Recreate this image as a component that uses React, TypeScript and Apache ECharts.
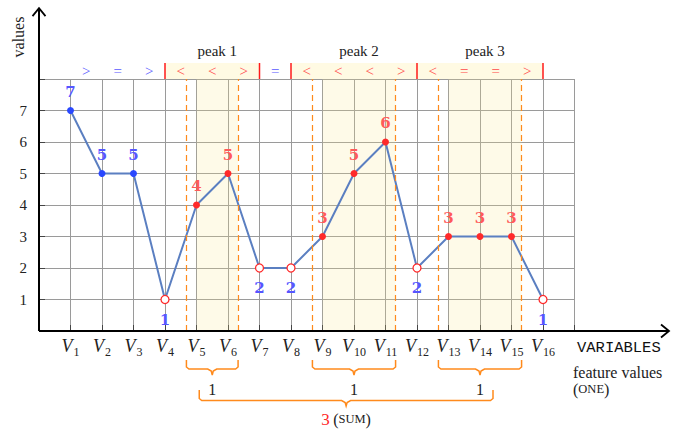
import React, { useEffect, useRef } from "react";
import * as echarts from "echarts";

// ---- data ----
const categories = ["1", "2", "3", "4", "5", "6", "7", "8", "9", "10", "11", "12", "13", "14", "15", "16"];
const values = [7, 5, 5, 1, 4, 5, 2, 2, 3, 5, 6, 2, 3, 3, 3, 1];
// kind of each point: "pre" = before first peak, "low" = outside peak, "peak" = in peak core
const pointKinds = ["pre", "pre", "pre", "low", "peak", "peak", "low", "low", "peak", "peak", "peak", "low", "peak", "peak", "peak", "low"];
const peakNames = ["peak 1", "peak 2", "peak 3"];
const peakSpans = [[4, 7], [8, 12], [12, 16]]; // sign-pattern span (variable indices)
const peakCores = [[5, 6], [9, 11], [13, 15]]; // variables inside the peak
const peakFeature = [1, 1, 1];
const yTickLabels = [1, 2, 3, 4, 5, 6, 7];

const SERIF = "'Liberation Serif', 'DejaVu Serif', serif";
const BOLD = "'DejaVu Serif', serif";
const BLUE_LBL = "#5656ff";
const RED_LBL = "#ff5a5a";
const BLUE_PT = "#2a48ff";
const RED_PT = "#ff2a2a";
const LINE = "#5b7fc1";
const SHADE = "rgba(250,232,140,0.2)";
const SHADE_SOLID = "#fffae3";
const ORANGE = "#ff8a1c";
const PAD = 0.32;

export default function App() {
  const ref = useRef<HTMLDivElement>(null);
  useEffect(() => {
    if (!ref.current) return;
    const chart = echarts.init(ref.current, null, { renderer: "svg" });
    const data = values.map((v, i) => {
      const k = pointKinds[i];
      const hollow = k === "low";
      return {
        value: [i + 1, v],
        symbolSize: hollow ? 8 : 7,
        itemStyle: hollow
          ? { color: "#fff", borderColor: RED_PT, borderWidth: 1.3 }
          : { color: k === "pre" ? BLUE_PT : RED_PT, borderWidth: 0 },
        label: {
          show: true,
          position: hollow ? "bottom" : "top",
          distance: 8,
          color: k === "peak" ? RED_LBL : BLUE_LBL,
          fontFamily: BOLD,
          fontWeight: "bold",
          fontSize: 15,
          formatter: String(v),
        },
      };
    });
    const option: any = {
      animation: false,
      grid: { left: 39, top: 79, width: 535.5, height: 252 },
      xAxis: {
        type: "value",
        min: 0,
        max: 17,
        interval: 1,
        axisLine: { show: false },
        axisTick: { show: true, inside: true, length: 6, lineStyle: { color: "#444" } },
        splitLine: { show: true, lineStyle: { color: "#9a9a9a", width: 1 } },
        axisLabel: {
          margin: 6,
          formatter: (v: number) =>
            v >= 1 && v <= categories.length ? `{v|V}{s|${categories[v - 1]}}` : "",
          rich: {
            v: { fontFamily: SERIF, fontStyle: "italic", fontSize: 18, color: "#222", verticalAlign: "top", lineHeight: 20 },
            s: { fontFamily: SERIF, fontSize: 12, color: "#222", padding: [9, 0, 0, 1], lineHeight: 20 },
          },
        },
      },
      yAxis: {
        type: "value",
        min: 0,
        max: 8,
        interval: 1,
        axisLine: { show: false },
        axisTick: { show: true, inside: true, length: 6, lineStyle: { color: "#444" } },
        splitLine: { show: true, lineStyle: { color: "#9a9a9a", width: 1 } },
        axisLabel: {
          margin: 12,
          fontFamily: SERIF,
          fontSize: 15,
          color: "#222",
          formatter: (v: number) => (yTickLabels.includes(v) ? String(v) : ""),
        },
      },
      series: [
        {
          type: "line",
          data,
          symbol: "circle",
          lineStyle: { color: LINE, width: 2 },
          z: 3,
          markArea: {
            silent: true,
            itemStyle: { color: SHADE },
            data: peakCores.map(([a, b]) => [{ xAxis: a }, { xAxis: b + PAD }]),
          },
          markLine: {
            silent: true,
            symbol: "none",
            label: { show: false },
            lineStyle: { color: ORANGE, type: [6, 4], width: 1.2 },
            data: peakCores.flatMap(([a, b]) => [{ xAxis: a - PAD }, { xAxis: b + PAD }]),
          },
        },
      ],
    };
    chart.setOption(option);

    const px = (x: number, y: number) => chart.convertToPixel({ gridIndex: 0 }, [x, y]) as number[];
    const o = px(0, 0);
    const top = px(0, 8)[1];
    const g: any[] = [];
    // axes
    const xEndX = px(20, 0)[0];
    const yEndY = px(0, 10.25)[1];
    g.push({ type: "line", z: 10, shape: { x1: o[0], y1: o[1], x2: xEndX - 1, y2: o[1] }, style: { stroke: "#000", lineWidth: 2 } });
    g.push({ type: "polyline", z: 10, shape: { points: [[xEndX - 8, o[1] - 6.5], [xEndX, o[1]], [xEndX - 8, o[1] + 6.5]] }, style: { stroke: "#000", lineWidth: 1.8, fill: "none" } });
    g.push({ type: "line", z: 10, shape: { x1: o[0], y1: o[1], x2: o[0], y2: yEndY + 1 }, style: { stroke: "#000", lineWidth: 2 } });
    g.push({ type: "polyline", z: 10, shape: { points: [[o[0] - 6.5, yEndY + 8], [o[0], yEndY], [o[0] + 6.5, yEndY + 8]] }, style: { stroke: "#000", lineWidth: 1.8, fill: "none" } });

    // top sign row
    const rowTop = top - 16;
    peakSpans.forEach(([a, b], pi) => {
      const xa = px(a, 8)[0];
      const xb = px(b, 8)[0];
      g.push({ type: "rect", z: 1, shape: { x: xa, y: rowTop, width: xb - xa, height: top - rowTop }, style: { fill: SHADE_SOLID } });
      g.push({
        type: "text", z: 5, x: (xa + xb) / 2 + 5, y: top - 28,
        style: { text: peakNames[pi], font: `15px ${SERIF}`, fill: "#222", align: "center", verticalAlign: "middle" },
      });
    });
    const bounds = Array.from(new Set(peakSpans.flat()));
    bounds.forEach((b) => {
      const xb = px(b, 8)[0];
      g.push({ type: "line", z: 6, shape: { x1: xb, y1: rowTop, x2: xb, y2: top }, style: { stroke: "#ff1a1a", lineWidth: 1.5 } });
    });
    for (let i = 1; i < values.length; i++) {
      const d = values[i] - values[i - 1];
      const sym = d > 0 ? "<" : d < 0 ? ">" : "=";
      const inPeak = peakSpans.some(([a, b]) => i >= a && i + 1 <= b);
      g.push({
        type: "text", z: 5, x: px(i + 0.5, 8)[0], y: top - 8.5,
        style: { text: sym, font: `15px ${SERIF}`, fill: inPeak ? "#ff4a4a" : "#5a5aff", align: "center", verticalAlign: "middle" },
      });
    }

    // braces
    const brace = (x0: number, x1: number, y0: number, yb: number, yt: number) => {
      const m = (x0 + x1) / 2;
      return {
        type: "polyline", z: 5,
        shape: { points: [[x0, y0], [x0, yb - 2], [x0 + 2.5, yb], [m - 4.5, yb], [m - 1, yb + 2], [m, yt], [m + 1, yb + 2], [m + 4.5, yb], [x1 - 2.5, yb], [x1, yb - 2], [x1, y0]] },
        style: { stroke: ORANGE, lineWidth: 1.5, fill: "none" },
      };
    };
    const mids: number[] = [];
    peakCores.forEach(([a, b], pi) => {
      const x0 = px(a - PAD, 0)[0];
      const x1 = px(b + PAD, 0)[0];
      mids.push((x0 + x1) / 2);
      g.push(brace(x0, x1, o[1] + 29, o[1] + 38, o[1] + 44));
      g.push({
        type: "text", z: 5, x: (x0 + x1) / 2, y: o[1] + 58,
        style: { text: String(peakFeature[pi]), font: `16px ${SERIF}`, fill: "#222", align: "center", verticalAlign: "middle" },
      });
    });
    const bx0 = mids[0] - 13;
    const bx1 = mids[mids.length - 1] + 13;
    g.push(brace(bx0, bx1, o[1] + 59, o[1] + 69.5, o[1] + 75));
    const total = peakFeature.reduce((s, v) => s + v, 0);
    g.push({
      type: "text", z: 5, x: (bx0 + bx1) / 2, y: o[1] + 88,
      style: {
        text: `{r|${total}} {p|(}{c|SUM}{p|)}`,
        align: "center", verticalAlign: "middle",
        rich: {
          r: { fontFamily: SERIF, fontSize: 17, fill: "#ff2a2a", color: "#ff2a2a" },
          p: { fontFamily: SERIF, fontSize: 16, fill: "#222", color: "#222" },
          c: { fontFamily: SERIF, fontSize: 12.5, fill: "#222", color: "#222" },
        },
      },
    });

    // axis names
    g.push({
      type: "text", z: 5, x: xEndX - 92, y: o[1] + 17,
      style: { text: "VARIABLES", font: `15.5px 'Liberation Mono', 'DejaVu Sans Mono', monospace`, fill: "#111", align: "left", verticalAlign: "middle" },
    });
    g.push({
      type: "text", z: 5, x: xEndX - 96, y: o[1] + 41,
      style: { text: "feature values", font: `16px ${SERIF}`, fill: "#222", align: "left", verticalAlign: "middle" },
    });
    g.push({
      type: "text", z: 5, x: xEndX - 96, y: o[1] + 58,
      style: {
        text: "{p|(}{c|ONE}{p|)}", align: "left", verticalAlign: "middle",
        rich: {
          p: { fontFamily: SERIF, fontSize: 16, fill: "#222", color: "#222" },
          c: { fontFamily: SERIF, fontSize: 12.5, fill: "#222", color: "#222" },
        },
      },
    });
    g.push({
      type: "text", z: 5, x: 18, y: 37, rotation: Math.PI / 2,
      style: { text: "values", font: `16px ${SERIF}`, fill: "#222", align: "center", verticalAlign: "middle" },
    });

    chart.setOption({ graphic: g });
    return () => chart.dispose();
  }, []);
  return <div ref={ref} style={{ width: 673, height: 434, position: "absolute", left: 0, top: 0, background: "#fff" }} />;
}
